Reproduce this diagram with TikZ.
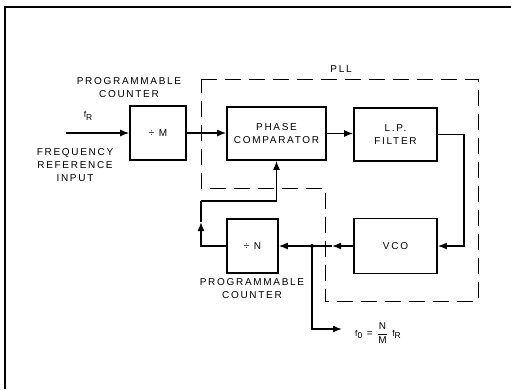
\documentclass[tikz,border=0pt]{standalone}
\usepackage{amsmath}
\usepackage{fontspec}
\setmainfont{Liberation Sans}[LetterSpace=17]
\usepackage{tikz}
\usetikzlibrary{arrows.meta,positioning}
\newcommand{\subR}[1]{\raisebox{-2.5pt}{\fontsize{8.5}{10}\selectfont #1}}

\begin{document}
\begin{tikzpicture}[
  x=1pt,y=-1pt,
  font=\fontsize{10}{13}\selectfont,
  block/.style={draw,line width=1.6pt,align=center,inner sep=0pt},
  lbl/.style={align=center,inner sep=0pt},
  arr/.style={-{Latex[length=9pt,width=7pt]},line width=1.5pt},
  wire/.style={line width=1.5pt},
  pll/.style={line width=0.9pt,dash pattern=on 16pt off 8pt}
]
\useasboundingbox (0,0) rectangle (511,389);
% page frame
\draw[line width=1.2pt] (5,389) -- (5,7) -- (511,7);

\node[block,minimum width=56pt,minimum height=54pt] (divm) at (158,133) {÷ M};
\node[block,minimum width=99pt,minimum height=53pt] (comp) at (276.5,133.5) {PHASE\\COMPARATOR};
\node[block,minimum width=83pt,minimum height=53pt] (filter) at (395.5,134.5) {L.P.\\FILTER};
\node[block,minimum width=83pt,minimum height=55pt] (vco) at (395.5,246) {VCO};
\node[block,minimum width=51pt,minimum height=54pt] (divn) at (252.5,246) {÷ N};

\node[lbl] (cntm) at (129,87.5) {PROGRAMMABLE\\COUNTER};
\node[lbl] (cntn) at (252,288.5) {PROGRAMMABLE\\COUNTER};
\node[lbl] (plllbl) at (341,69) {PLL};
\node[lbl] (fr) at (88,116) {\fontsize{8.5}{10}\selectfont f\subR{R}};
\node[lbl] (frin) at (75,165) {FREQUENCY\\REFERENCE\\INPUT};
\node[lbl,anchor=west] (fo) at (355,333) {{\fontsize{8.5}{10}\selectfont f\subR{0}} = $\dfrac{\text{N}}{\text{M}}$ {\fontsize{8.5}{10}\selectfont f\subR{R}}};

\coordinate (in) at (66,133);
\coordinate (rt) at (464,190);
\coordinate (mid) at (332,246);
\coordinate (tap) at (312,246);
\coordinate (out) at (342,329);
\coordinate (fbup) at (201,222);
\coordinate (fbtop) at (201,201);

\draw[arr] (in) -- (divm.west);
\draw[arr] (divm.east) -- (comp.west|-divm.east);
\draw[arr] (comp.east) -- (filter.west|-comp.east);
\draw[arr] (filter.east) -| (rt) |- (vco.east);
\draw[arr] (vco.west) -- (mid);
\draw[wire] (mid) -- (tap);
\draw[arr] (tap) -- (divn.east);
\fill (tap) circle (2pt);
\draw[arr] (tap) |- (out);
\draw[arr] (divn.west) -| (fbup);
\draw[wire] (fbup) -- (fbtop);
\draw[arr] (fbtop) -| (comp.south);

% PLL boundary
\draw[pll] (201,79) -- (478,79) -- (478,301) -- (325,301) -- (325,188) -- (201,188) -- cycle;
\end{tikzpicture}
\end{document}
